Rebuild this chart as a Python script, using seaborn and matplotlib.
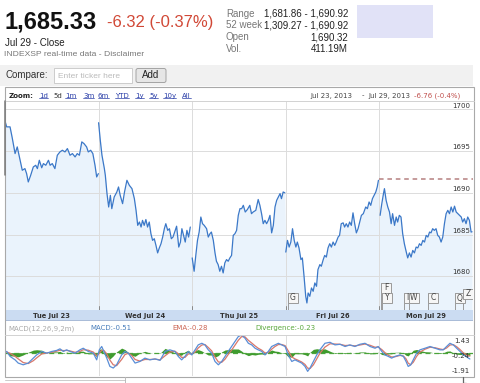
import matplotlib
matplotlib.use("Agg")
import matplotlib.pyplot as plt
import matplotlib.transforms as mtransforms
from matplotlib.patches import Rectangle, FancyBboxPatch
import seaborn as sns
import pandas as pd

# quote header
last_price = "1,685.33"
change_text = "-6.32 (-0.37%)"
close_label = "Jul 29 - Close"
source_label = "INDEXSP real-time data - Disclaimer"
stat_names = ["Range", "52 week", "Open", "Vol."]
stat_values = ["1,681.86 - 1,690.92", "1,309.27 - 1,690.92", "1,690.32", "411.19M"]
zoom_links = ["1d", "5d", "1m", "3m", "6m", "YTD", "1y", "5y", "10y", "All"]
selected_link = "5d"
period_from = "Jul 23, 2013"
period_to = "Jul 29, 2013"
period_change = "-6.76 (-0.4%)"

# five sessions, minutes after the open
session_len = 390
day_labels = ["Tue Jul 23", "Wed Jul 24", "Thu Jul 25", "Fri Jul 26", "Mon Jul 29"]

d1_min = [0, 7, 21, 30, 42, 51, 63, 72, 83, 90, 97, 107, 118, 128, 135, 143, 153, 160, 170, 181,
          188, 197, 208, 218, 229, 239, 250, 260, 271, 281, 292, 301, 310, 320, 329, 340, 347, 357,
          366, 375, 382, 389]
d1_px = [1698.6, 1697.9, 1697.9, 1696.6, 1694.7, 1695.5, 1693.9, 1692.7, 1692.9, 1692.3,
         1691.3, 1692.1, 1693.1, 1693.3, 1692.9, 1693.9, 1693.0, 1693.5, 1693.3, 1693.9,
         1693.3, 1693.5, 1692.9, 1694.5, 1694.9, 1695.1, 1694.9, 1695.3, 1694.5, 1694.7,
         1694.3, 1694.7, 1694.5, 1696.1, 1695.9, 1695.5, 1694.9, 1695.1, 1694.7, 1693.3,
         1691.9, 1692.3]

d2_min = [0, 7, 14, 24, 28, 35, 42, 49, 55, 65, 76, 83, 90, 100, 108, 118, 128, 139, 149, 156,
          163, 170, 177, 183, 190, 197, 204, 211, 218, 225, 232, 239, 246, 253, 260, 267, 274, 280,
          288, 295, 303, 310, 317, 325, 334, 341, 347, 354, 361, 368, 375, 382]
d2_px = [1698.4, 1696.3, 1694.5, 1692.9, 1692.1, 1689.9, 1688.3, 1689.7, 1688.1, 1689.5,
         1690.1, 1690.7, 1689.7, 1688.7, 1690.1, 1691.5, 1690.9, 1690.5, 1689.3, 1687.9,
         1686.1, 1686.5, 1685.9, 1686.7, 1686.1, 1686.8, 1685.9, 1686.5, 1685.1, 1684.3,
         1684.5, 1683.7, 1682.8, 1683.4, 1683.9, 1684.7, 1685.7, 1686.3, 1685.5, 1685.7,
         1684.5, 1684.7, 1685.3, 1686.0, 1683.5, 1684.1, 1685.7, 1684.9, 1684.1, 1685.5,
         1684.7, 1685.9]

d3_min = [0, 4, 8, 15, 22, 29, 36, 43, 50, 60, 67, 74, 80, 88, 95, 101, 108, 115, 122, 129,
          136, 143, 150, 157, 164, 171, 178, 185, 192, 199, 206, 213, 221, 230, 240, 247, 254, 265,
          275, 282, 289, 296, 303, 310, 317, 324, 331, 338, 345, 352, 359, 366, 372, 379, 386]
d3_px = [1682.2, 1681.4, 1680.6, 1682.5, 1684.3, 1685.3, 1687.1, 1686.3, 1686.1, 1685.7,
         1684.7, 1685.1, 1685.3, 1684.3, 1682.8, 1681.8, 1681.4, 1680.6, 1681.2, 1680.4,
         1681.6, 1682.0, 1681.8, 1682.2, 1682.5, 1684.9, 1685.1, 1685.5, 1687.3, 1688.1,
         1688.1, 1688.5, 1687.7, 1688.0, 1688.5, 1687.5, 1687.7, 1687.9, 1689.2, 1688.5,
         1687.5, 1686.3, 1686.7, 1686.3, 1686.7, 1687.3, 1685.2, 1686.1, 1688.3, 1689.1,
         1689.5, 1689.9, 1689.3, 1690.1, 1690.0]

d4_min = [0, 7, 14, 21, 28, 35, 42, 48, 55, 63, 69, 76, 83, 88, 93, 100, 107, 114, 121, 128,
          134, 142, 148, 156, 162, 169, 176, 183, 190, 197, 204, 210, 218, 224, 231, 239, 245, 252,
          259, 266, 273, 280, 287, 294, 301, 308, 315, 323, 333, 340, 347, 354, 361, 368, 375, 381,
          386]
d4_px = [1682.9, 1684.3, 1683.5, 1684.1, 1685.7, 1684.3, 1683.5, 1684.1, 1683.4, 1682.0,
         1682.2, 1680.0, 1677.6, 1676.8, 1678.0, 1677.6, 1678.6, 1678.2, 1679.2, 1678.8,
         1680.8, 1681.4, 1681.2, 1682.0, 1682.5, 1682.3, 1683.4, 1683.9, 1683.5, 1684.1,
         1683.7, 1684.1, 1684.7, 1684.9, 1686.3, 1686.4, 1685.9, 1686.3, 1685.9, 1686.5,
         1686.1, 1687.6, 1686.3, 1685.2, 1685.7, 1686.5, 1687.3, 1687.5, 1688.3, 1688.1,
         1688.9, 1688.5, 1689.3, 1689.7, 1690.1, 1690.7, 1691.5]

d5_min = [3, 10, 17, 21, 28, 35, 42, 49, 55, 63, 70, 76, 83, 90, 97, 104, 112, 118, 125, 132,
          139, 146, 153, 160, 167, 174, 181, 188, 195, 202, 209, 215, 222, 229, 236, 243, 250, 257,
          264, 271, 278, 285, 292, 299, 306, 313, 320, 327, 334, 341, 347, 354, 361, 368, 375, 382,
          386]
d5_px = [1687.3, 1688.7, 1689.9, 1690.5, 1689.1, 1688.3, 1687.7, 1686.3, 1687.5, 1686.1,
         1687.1, 1686.5, 1687.3, 1687.1, 1685.1, 1683.9, 1682.9, 1682.2, 1682.8, 1682.3,
         1683.1, 1682.8, 1683.5, 1683.4, 1683.9, 1683.7, 1684.3, 1684.1, 1684.9, 1684.7,
         1685.3, 1685.2, 1685.7, 1685.5, 1685.7, 1684.9, 1684.7, 1684.1, 1684.7, 1686.3,
         1687.5, 1687.9, 1687.5, 1688.3, 1687.7, 1688.4, 1687.7, 1687.5, 1687.3, 1687.1,
         1686.5, 1686.9, 1686.3, 1687.1, 1686.7, 1685.3, 1685.33]

prev_close = 1691.65
price_ticks = [1680, 1685, 1690, 1695, 1700]

# MACD(12,26,9) on 2-minute bars, minutes from the first open
macd_t = [0, 7, 21, 42, 55, 76, 97, 118, 132, 153, 174, 195, 215, 229, 243, 257, 271, 292, 312,
          326, 347, 368, 382, 393, 403, 412, 424, 437, 451, 465, 486, 500, 514, 528, 542, 562, 583,
          604, 625, 646, 667, 687, 708, 722, 736, 750, 764, 778, 792, 805, 820, 833, 847, 861, 875,
          889, 903, 917, 930, 944, 958, 972, 986, 1000, 1014, 1028, 1042, 1055, 1070, 1083, 1097,
          1111, 1125, 1139, 1153, 1167, 1180, 1195, 1208, 1222, 1236, 1250, 1261, 1271, 1285,
          1299, 1312, 1333, 1354, 1375, 1396, 1417, 1437, 1458, 1479, 1500, 1521, 1542, 1555,
          1570, 1583, 1597, 1611, 1625, 1646, 1660, 1671, 1680, 1690, 1701, 1715, 1729, 1750,
          1771, 1792, 1812, 1826, 1840, 1854, 1868, 1882, 1896, 1910, 1924, 1937]
macd_line = [0.05, 0.10, -0.30, -0.58, -0.84, -0.98, -0.84, -0.44, -0.18, 0.10, -0.04, 0.10,
             0.18, 0.31, 0.10, 0.23, 0.10, -0.04, 0.23, 0.36, 0.10, -0.04, -0.58, 0.23, 0.50,
             0.10, -0.44, -1.11, -1.24, -0.98, -0.18, 0.10, -0.04, -0.44, -0.84, -0.71, -0.44,
             -0.58, -0.50, -0.62, 0.10, 0.23, 0.10, -0.30, -0.58, -0.30, 0.10, -0.18, 0.23, 0.63,
             0.76, 0.63, 0.23, -0.04, -0.71, -0.98, -0.71, -0.30, 0.10, 0.50, 0.90, 1.30, 1.43,
             1.17, 0.76, 0.63, 0.36, 0.23, 0.10, -0.18, 0.10, 0.50, 0.63, 0.76, 0.63, 0.50, -0.18,
             -0.71, -0.58, -0.71, -0.84, -1.11, -1.51, -1.24, -0.71, -0.18, 0.23, 0.76, 0.84,
             0.63, 0.68, 0.50, 0.63, 0.50, 0.68, 0.76, 0.50, 0.36, 0.50, 0.10, -0.18, -0.30,
             -0.44, -0.30, -0.18, -0.30, -0.71, -1.11, -1.00, -0.58, -0.04, 0.23, 0.36, 0.50,
             0.36, 0.23, 0.23, 0.50, 0.76, 0.63, 0.36, 0.10, -0.18, -0.35, -0.51]
ema_line = [0.05, 0.06, -0.05, -0.30, -0.50, -0.80, -0.88, -0.65, -0.42, -0.10, -0.02, 0.03,
            0.12, 0.20, 0.17, 0.18, 0.14, 0.03, 0.10, 0.24, 0.20, 0.05, -0.25, -0.05, 0.20,
            0.18, -0.10, -0.60, -0.98, -1.05, -0.55, -0.15, -0.05, -0.22, -0.55, -0.68, -0.55,
            -0.55, -0.52, -0.58, -0.25, 0.05, 0.12, -0.08, -0.38, -0.38, -0.10, -0.08, 0.05,
            0.38, 0.62, 0.66, 0.42, 0.15, -0.35, -0.75, -0.78, -0.52, -0.15, 0.20, 0.60, 1.00,
            1.30, 1.28, 1.00, 0.78, 0.55, 0.36, 0.20, -0.02, 0.02, 0.28, 0.50, 0.66, 0.66, 0.57,
            0.15, -0.35, -0.50, -0.62, -0.75, -0.95, -1.25, -1.28, -0.98, -0.50, -0.05, 0.45,
            0.72, 0.70, 0.68, 0.58, 0.60, 0.55, 0.62, 0.70, 0.60, 0.44, 0.46, 0.25, 0.00, -0.20,
            -0.35, -0.33, -0.22, -0.27, -0.50, -0.85, -0.97, -0.78, -0.30, 0.05, 0.28, 0.44,
            0.40, 0.30, 0.25, 0.38, 0.62, 0.65, 0.48, 0.25, -0.02, -0.18, -0.28]
macd_range = (-1.91, 1.43)

# news flags (letter, minutes from the first open)
flag_letters = ["G", "F", "Y", "I", "W", "C", "Q", "Z"]
flag_t = [1179, 1567, 1571, 1662, 1683, 1762, 1875, 1908]

W, H = 480, 383
HEAD = ["Liberation Sans", "DejaVu Sans"]
SMALL = 5


def px_rect(x0, y0, x1, y1):
    return [x0 / W, 1 - y1 / H, (x1 - x0) / W, (y1 - y0) / H]


days = [(d1_min, d1_px), (d2_min, d2_px), (d3_min, d3_px), (d4_min, d4_px), (d5_min, d5_px)]
frames = []
for i, (mins, px) in enumerate(days):
    frames.append(pd.DataFrame({"t": [i * session_len + m for m in mins], "price": px, "day": i}))
price_df = pd.concat(frames, ignore_index=True)

assert len(macd_t) == len(macd_line) == len(ema_line)
macd_df = pd.DataFrame({"t": macd_t, "MACD": macd_line, "EMA": ema_line})
macd_df["div"] = macd_df["MACD"] - macd_df["EMA"]
macd_long = macd_df.melt(id_vars="t", value_vars=["EMA", "MACD"], var_name="series", value_name="v")

sns.set_style("white")
plt.rcParams["font.family"] = ["DejaVu Sans"]

fig = plt.figure(figsize=(4.8, 3.83), dpi=100)
x_end = session_len * 5

# page background layer, pixel coordinates
bg = fig.add_axes([0, 0, 1, 1])
bg.set_xlim(0, W)
bg.set_ylim(H, 0)
bg.axis("off")

bg.text(5, 28, last_price, fontsize=17, fontweight="bold", family=HEAD, color="#111111")
bg.text(107, 27.5, change_text, fontsize=12, family=HEAD, color="#d14836")
bg.text(5, 46.5, close_label, fontsize=7, family=HEAD, color="#222222")
bg.text(4, 56.5, source_label, fontsize=6.1, family=HEAD, color="#777777")
for k, (name, val) in enumerate(zip(stat_names, stat_values)):
    yb = 16.7 + k * 11.7
    bg.text(226, yb, name, fontsize=7, family=HEAD, color="#777777")
    bg.text(348, yb, val, fontsize=7, family=HEAD, color="#222222", ha="right")
bg.add_patch(Rectangle((357, 5), 76, 33, fc="#e1e2f7", ec="none"))

# compare bar
bg.add_patch(Rectangle((0, 64.5), 473, 21.5, fc="#f1f1f1", ec="none"))
bg.text(6, 78.3, "Compare:", fontsize=7, family=HEAD, color="#333333")
bg.add_patch(Rectangle((54, 68), 78, 15, fc="white", ec="#cccccc", lw=0.7))
bg.text(58, 77.7, "Enter ticker here", fontsize=6, family=HEAD, color="#bbbbbb")
bg.add_patch(FancyBboxPatch((136, 68.5), 30, 14, boxstyle="round,pad=0,rounding_size=2",
                            fc="#e6e6e6", ec="#a3a3a3", lw=0.7))
bg.text(151, 78.3, "Add", fontsize=7, family=HEAD, color="#222222", ha="center")

# zoom row
bg.text(9, 97.7, "Zoom:", fontsize=SMALL, fontweight="bold", color="#222222")
link_x = [39, 53, 65, 83, 98, 115, 135, 149, 163, 182]
link_texts = []
for lab, lx in zip(zoom_links, link_x):
    sel = lab == selected_link
    tx = bg.text(lx, 97.7, lab, fontsize=SMALL, color="#333333" if sel else "#2a3ea8")
    if not sel:
        link_texts.append(tx)
bg.text(310, 97.7, period_from, fontsize=SMALL, color="#444444")
bg.text(362, 97.7, "-", fontsize=SMALL, color="#444444")
bg.text(368, 97.7, period_to, fontsize=SMALL, color="#444444")
bg.text(414, 97.7, period_change, fontsize=SMALL, color="#c0504d")

# MACD legend row
bg.text(8, 330, "MACD(12,26,9,2m)", fontsize=SMALL, color="#aaaaaa")
bg.text(90, 330, f"MACD:{macd_line[-1]:.2f}", fontsize=SMALL, color="#4a7ebb")
bg.text(172, 330, f"EMA:{ema_line[-1]:.2f}", fontsize=SMALL, color="#cc6655")
bg.text(255, 330, f"Divergence:{macd_line[-1] - ema_line[-1]:.2f}", fontsize=SMALL, color="#5aa83c")

# price panel
ax = fig.add_axes(px_rect(5, 101, 473, 310))
ax.set_facecolor("none")
y_lo, y_hi = 1675.96, 1701.0
ax.fill_between(price_df["t"], price_df["price"], y_lo, color="#eaf3fc", lw=0, zorder=1)
for v in price_ticks:
    ax.axhline(v, color="#dcdcdc", lw=0.7, zorder=1.5)
for k in range(1, 5):
    ax.axvline(k * session_len, color="#dcdcdc", lw=0.7, zorder=1.5)
sns.lineplot(data=price_df, x="t", y="price", units="day", estimator=None,
             color="#3b78c8", lw=0.9, ax=ax, zorder=3)
ax.plot([4 * session_len, x_end], [prev_close, prev_close], ls=(0, (3, 2.5)),
        color="#b58080", lw=1.1, zorder=3)
ax.set_xlim(0, x_end)
ax.set_ylim(y_lo, y_hi)
ax.set_xlabel("")
ax.set_ylabel("")
ax.set_xticks([])
ax.set_yticks([])
sns.despine(ax=ax, left=True, bottom=True)
ylab_tr = mtransforms.blended_transform_factory(ax.transAxes, ax.transData)
for v in price_ticks:
    ax.annotate(str(v), xy=(1, v), xycoords=ylab_tr, xytext=(-2.2, 0.6), textcoords="offset points",
                ha="right", va="bottom", fontsize=SMALL, color="#333333", zorder=4)

# news flags
flag_tr = mtransforms.blended_transform_factory(ax.transData, ax.transAxes)
box_w = 10 * x_end / 468
box_h = 10 / 209
for letter, ft in zip(flag_letters, flag_t):
    bottom = 7 / 209
    if letter == "F":
        bottom = 17 / 209
    elif letter == "Z":
        bottom = 11 / 209
    w = box_w * (0.7 if letter == "I" else 1.0)
    ax.plot([ft, ft], [0, bottom + box_h], transform=flag_tr, color="#999999", lw=0.7, zorder=5)
    ax.add_patch(Rectangle((ft, bottom), w, box_h, transform=flag_tr, fc="#f6f6f6",
                           ec="#9a9a9a", lw=0.7, zorder=6))
    ax.text(ft + w / 2, bottom + box_h / 2, letter, transform=flag_tr, ha="center", va="center",
            fontsize=5.5, color="#444444", zorder=7)
for k in range(1, 5):
    ax.plot([k * session_len] * 2, [0, 0.02], transform=flag_tr, color="#888888", lw=0.7, zorder=5)

# date band
band = fig.add_axes(px_rect(5, 310, 473, 320.5))
band.set_facecolor("#cbdcf2")
band.set_xlim(0, x_end)
band.set_ylim(0, 1)
band.set_xticks([])
band.set_yticks([])
for s in band.spines.values():
    s.set_visible(False)
band.axhline(0.02, color="#a9bcd8", lw=0.7)
for k, lab in enumerate(day_labels):
    band.text(k * session_len + session_len / 2, 0.45, lab, ha="center", va="center",
              fontsize=4.9, fontweight="bold", color="#333333")

# MACD panel
mac = fig.add_axes(px_rect(5, 335, 473, 376.3))
mac.set_facecolor("none")
for k in range(1, 5):
    mac.axvline(k * session_len, color="#dcdcdc", lw=0.7, zorder=0.5)
mac.fill_between(macd_df["t"], 0, macd_df["div"], color="#3f9b2e", lw=0, zorder=1)
mac.axhline(0, color="#4aa33a", lw=0.9, ls=(0, (4, 3)), zorder=2)
sns.lineplot(data=macd_long, x="t", y="v", hue="series", estimator=None,
             palette={"EMA": "#d9776a", "MACD": "#5a8ed6"}, lw=0.9, legend=False, ax=mac, zorder=3)
mac.set_xlim(0, x_end)
mac.set_ylim(*macd_range)
mac.set_xlabel("")
mac.set_ylabel("")
mac.set_xticks([])
mac.set_yticks([])
sns.despine(ax=mac, left=True, bottom=True)
mlab_tr = mtransforms.blended_transform_factory(mac.transAxes, mac.transData)
mid = (macd_range[0] + macd_range[1]) / 2
mac.annotate(f"{macd_range[1]:.2f}", xy=(1, macd_range[1]), xycoords=mlab_tr, xytext=(-2.2, -2),
             textcoords="offset points", ha="right", va="top", fontsize=SMALL, color="#333333")
mac.annotate(f"{mid:.2f}", xy=(1, mid), xycoords=mlab_tr, xytext=(-2.2, 0),
             textcoords="offset points", ha="right", va="center", fontsize=SMALL, color="#333333")
mac.annotate(f"{macd_range[0]:.2f}", xy=(1, macd_range[0]), xycoords=mlab_tr, xytext=(-2.2, 1.5),
             textcoords="offset points", ha="right", va="bottom", fontsize=SMALL, color="#333333")

# frame lines on top
top = fig.add_axes([0, 0, 1, 1])
top.set_xlim(0, W)
top.set_ylim(H, 0)
top.axis("off")
top.add_patch(Rectangle((4.5, 87), 469, 289.5, fc="none", ec="#a9a9a9", lw=0.8))
top.plot([4.5, 473.5], [100.5, 100.5], color="#d2d2d2", lw=0.7)
top.plot([4.5, 473.5], [334.7, 334.7], color="#d2d2d2", lw=0.7)
top.plot([4.8, 4.8], [101, 175], color="#7a7a7a", lw=1.1)
top.plot([5, 125], [379.5, 379.5], color="#cccccc", lw=0.7)
top.plot([125, 125], [377, 383], color="#bbbbbb", lw=0.7)
top.plot([463, 463, 466], [377, 382.5, 382.5], color="#666666", lw=0.9)

# underline the zoom links
fig.canvas.draw()
renderer = fig.canvas.get_renderer()
for tx in link_texts:
    bb = tx.get_window_extent(renderer)
    top.plot([bb.x0, bb.x1], [H - bb.y0 - 0.3, H - bb.y0 - 0.3], color="#2a3ea8", lw=0.5)

fig.savefig("out.png", dpi=100)
